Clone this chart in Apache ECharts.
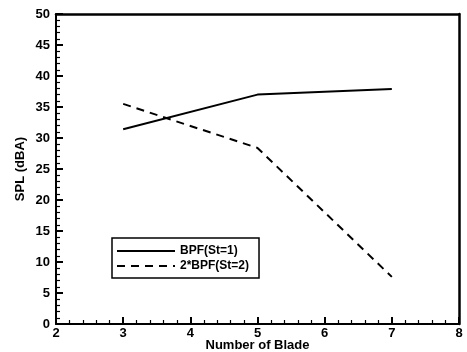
<!DOCTYPE html>
<html>
<head>
<meta charset="utf-8">
<script src="https://cdn.jsdelivr.net/npm/echarts@6/dist/echarts.min.js"></script>
<style>
  html, body { margin: 0; padding: 0; background: #fff; }
  #chart { width: 467px; height: 352px; }
</style>
</head>
<body>
<div id="chart"></div>
<script>
// 叶片数
const blades = [3, 5, 7]
// BPF(St=1) 声压级
const bpf1 = [31.4, 37.0, 37.9]
// 2*BPF(St=2) 声压级
const bpf2 = [35.5, 28.4, 7.6]

const font = 'Liberation Sans, Arial, sans-serif'

const chart = echarts.init(document.getElementById('chart'))

const axisCommon = {
  type: 'value',
  axisLine: { show: true, onZero: false, lineStyle: { color: '#000', width: 2 } },
  axisTick: { show: true, inside: true, length: 7, lineStyle: { color: '#000', width: 2 } },
  minorTick: { show: true, splitNumber: 5, length: 4, lineStyle: { color: '#000', width: 1.2 } },
  splitLine: { show: false },
  axisLabel: { color: '#000', fontFamily: font, fontWeight: 'bold', fontSize: 13 }
}

const frameAxis = (pos, max, min) => ({
  type: 'value', position: pos, min: min, max: max, show: true,
  axisLine: { show: true, onZero: false, lineStyle: { color: '#000', width: 2.5 } },
  axisTick: { show: false }, axisLabel: { show: false }, splitLine: { show: false }
})

const option = {
  animation: false,
  grid: { left: 56, right: 8, top: 14, bottom: 28, outerBoundsMode: 'none' },
  legend: {
    orient: 'vertical',
    left: 112,
    top: 238,
    width: 148,
    padding: [7, 10, 6, 4],
    itemGap: 3,
    itemWidth: 58,
    itemHeight: 14,
    borderColor: '#000',
    borderWidth: 1.5,
    itemStyle: { opacity: 0 },
    textStyle: { color: '#000', fontFamily: font, fontWeight: 'bold', fontSize: 12 },
    data: ['BPF(St=1)', '2*BPF(St=2)']
  },
  xAxis: [
    Object.assign({}, axisCommon, {
      min: 2, max: 8, interval: 1,
      name: 'Number of Blade',
      nameLocation: 'middle',
      nameGap: 15,
      nameMoveOverlap: false,
      nameTextStyle: { color: '#000', fontFamily: font, fontWeight: 'bold', fontSize: 13 },
      axisLabel: Object.assign({}, axisCommon.axisLabel, { margin: 3 })
    }),
    frameAxis('top', 8, 2)
  ],
  yAxis: [
    Object.assign({}, axisCommon, {
      min: 0, max: 50, interval: 5,
      name: 'SPL (dBA)',
      nameLocation: 'middle',
      nameGap: 29,
      nameMoveOverlap: false,
      nameTextStyle: { color: '#000', fontFamily: font, fontWeight: 'bold', fontSize: 13 },
      axisLabel: Object.assign({}, axisCommon.axisLabel, { margin: 6 })
    }),
    frameAxis('right', 50, 0)
  ],
  series: [
    {
      name: 'BPF(St=1)',
      type: 'line',
      symbol: 'none',
      data: blades.map((b, i) => [b, bpf1[i]]),
      lineStyle: { color: '#000', width: 2 },
      itemStyle: { color: '#000' }
    },
    {
      name: '2*BPF(St=2)',
      type: 'line',
      symbol: 'none',
      data: blades.map((b, i) => [b, bpf2[i]]),
      lineStyle: { color: '#000', width: 2, type: [8, 6] },
      itemStyle: { color: '#000' }
    }
  ]
}

chart.setOption(option)
</script>
</body>
</html>
